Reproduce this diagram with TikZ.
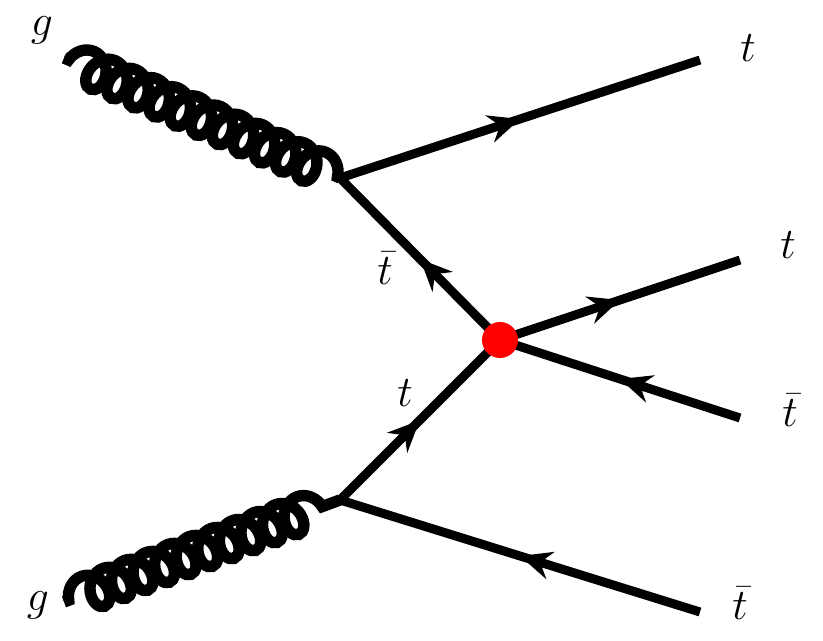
\documentclass[tikz,border=0pt]{standalone}
\usepackage{amsmath}
\usetikzlibrary{positioning, arrows.meta, decorations.pathmorphing, decorations.markings}
\tikzset{
    fermion/.style={line width=5.1pt, postaction={decorate, decoration={markings, mark=at position 0.5 with {\arrow{Stealth[length=18pt, width=16pt, inset=6pt]}}}}},
    gluon/.style={line width=6.5pt, decorate, decoration={coil, amplitude=0.36cm, segment length=0.46cm, aspect=0.8, pre length=0.1cm, post length=0.05cm}},
    blob/.style={circle, fill=red, inner sep=0pt, minimum size=0.72cm},
    lbl/.style={font=\fontsize{27}{30}\selectfont, inner sep=0pt},
}
\begin{document}
\begin{tikzpicture}[x=0.02cm, y=-0.02cm]
    \useasboundingbox (0,0) rectangle (823,641);

    % Vertici e estremi
    \coordinate (v1) at (340,178);
    \coordinate (v2) at (340,500);
    \coordinate (g1) at (64,58);
    \coordinate (g2) at (64,602);
    \coordinate (t1) at (700,60);
    \coordinate (t2) at (740,260);
    \coordinate (tb1) at (740,418);
    \coordinate (tb2) at (700,612);
    \coordinate (c) at (500,340);

    % Gluoni
    \draw[gluon] (g1) -- (v1);
    \draw[gluon] (g2) -- (v2);

    % Fermioni
    \draw[fermion] (v1) -- (t1);
    \draw[fermion] (c) -- (v1);
    \draw[fermion] (v2) -- (c);
    \draw[fermion] (tb2) -- (v2);
    \draw[fermion] (c) -- (t2);
    \draw[fermion] (tb1) -- (c);

    % Vertice efficace
    \node[blob] (dot) at (c) {};

    % Etichette
    \node[lbl] (lg1) at (42,30) {$g$};
    \node[lbl] (lg2) at (38,605) {$g$};
    \node[lbl] (lt1) at (748,48) {$t$};
    \node[lbl] (lt2) at (788,245) {$t$};
    \node[lbl] (ltb1) at (790,410) {$\bar{t}$};
    \node[lbl] (ltb2) at (740,603) {$\bar{t}$};
    \node[lbl] (ltb) at (385,268) {$\bar{t}$};
    \node[lbl] (lt) at (405,393) {$t$};
\end{tikzpicture}
\end{document}
